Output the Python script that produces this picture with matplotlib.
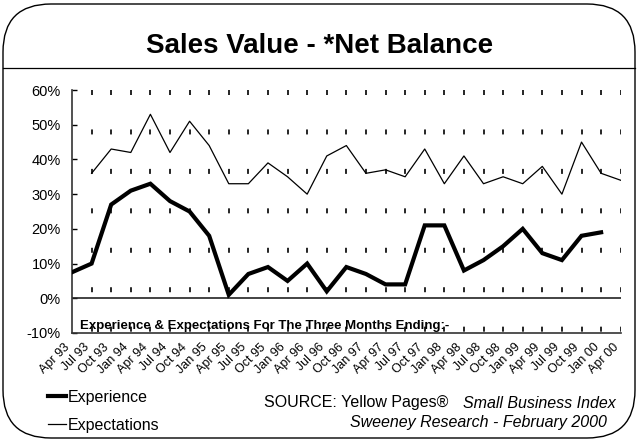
import matplotlib
matplotlib.use("Agg")
import matplotlib.pyplot as plt
import matplotlib.transforms as mtransforms
from matplotlib.lines import Line2D
from matplotlib.patches import FancyBboxPatch

plt.rcParams['font.family'] = ['Liberation Sans', 'DejaVu Sans']
plt.rcParams['lines.scale_dashes'] = False

quarters = ["Apr 93", "Jul 93", "Oct 93", "Jan 94", "Apr 94", "Jul 94", "Oct 94",
            "Jan 95", "Apr 95", "Jul 95", "Oct 95", "Jan 96", "Apr 96", "Jul 96",
            "Oct 96", "Jan 97", "Apr 97", "Jul 97", "Oct 97", "Jan 98", "Apr 98",
            "Jul 98", "Oct 98", "Jan 99", "Apr 99", "Jul 99", "Oct 99", "Jan 00",
            "Apr 00"]
# Experience: Apr 93 .. Jan 00
experience = [7.5, 10, 27, 31, 33, 28, 25, 18, 1, 7, 9, 5, 10, 2, 9, 7,
              4, 4, 21, 21, 8, 11, 15, 20, 13, 11, 18, 19]
# Expectations: Jul 93 .. Apr 00
expectations = [36, 43, 42, 53, 42, 51, 44, 33, 33, 39, 35, 30, 41, 44, 36, 37,
                35, 43, 33, 41, 33, 35, 33, 38, 30, 45, 36, 34]
yticks = [-10, 0, 10, 20, 30, 40, 50, 60]

W, H = 638, 441
fig = plt.figure(figsize=(W / 100, H / 100), dpi=100)

# frame with rounded corners + line under the title
bg = fig.add_axes([0, 0, 1, 1])
bg.set_xlim(0, W)
bg.set_ylim(0, H)
bg.axis("off")
bg.add_patch(FancyBboxPatch((3, 3), W - 6, H - 7, boxstyle="round,pad=0,rounding_size=48",
                            fill=False, lw=1.0, ec="black"))
bg.plot([3, W - 3], [H - 68, H - 68], color="black", lw=0.9)
fig.text(320 / W, 1 - 46 / H, "Sales Value - *Net Balance", ha="center", va="center",
         fontsize=20, fontweight="bold")

ax = fig.add_axes([72 / W, 1 - 333 / H, 548.7 / W, 243 / H])
ax.set_xlim(0, len(quarters) - 1)
ax.set_ylim(-10, 60)

# dashed vertical gridlines drawn top-down
ax.vlines(range(1, len(quarters)), 60, -10, colors="black", lw=1.2,
          linestyles=[(0, (3.6, 24.8))], zorder=1)
ax.axhline(0, color="#222222", lw=1.2, zorder=2)

ax.plot(range(len(experience)), experience, color="black", lw=3.0,
        solid_joinstyle="miter", zorder=3, label="Experience")
ax.plot(range(1, len(expectations) + 1), expectations, color="black", lw=0.9,
        zorder=3, label="Expectations")

for s in ["top", "right"]:
    ax.spines[s].set_visible(False)
ax.spines["left"].set_color("#333333")
ax.spines["bottom"].set_color("#333333")
ax.spines["left"].set_linewidth(1.2)
ax.spines["bottom"].set_linewidth(1.2)

ax.set_yticks(yticks)
ax.set_yticklabels([f"{v}%" for v in yticks], fontsize=10.5)
ax.tick_params(axis="y", direction="in", length=3.6, width=1, pad=8)
ax.set_xticks(range(len(quarters)))
ax.set_xticklabels(quarters, rotation=45, ha="right", va="center",
                   rotation_mode="anchor", fontsize=9)
ax.tick_params(axis="x", length=0, pad=9)
shift = mtransforms.ScaledTranslation(-4 / 100, 0, fig.dpi_scale_trans)
for lbl in ax.get_xticklabels():
    lbl.set_transform(lbl.get_transform() + shift)

ax.text(0.41, -8.9, "Experience & Expectations For The Three Months Ending:-",
        fontsize=9.5, fontweight="bold", va="baseline", ha="left", zorder=0)

handles = [Line2D([], [], color="black", lw=3.0), Line2D([], [], color="black", lw=0.9)]
fig.legend(handles, ["Experience", "Expectations"], loc="upper left",
           bbox_to_anchor=(48 / W, 1 - 390 / H), frameon=False, fontsize=11.5,
           handlelength=1.1, handletextpad=0.15, labelspacing=0.8,
           borderpad=0, borderaxespad=0)

fig.text(264 / W, 1 - 403 / H, "SOURCE: Yellow Pages®", fontsize=11.5,
         ha="left", va="center")
fig.text(616 / W, 1 - 403 / H, "Small Business Index", fontsize=11.5,
         style="italic", ha="right", va="center")
fig.text(607 / W, 1 - 423 / H, "Sweeney Research - February 2000", fontsize=11.5,
         style="italic", ha="right", va="center")

fig.savefig("out.png", dpi=100, facecolor="white")
